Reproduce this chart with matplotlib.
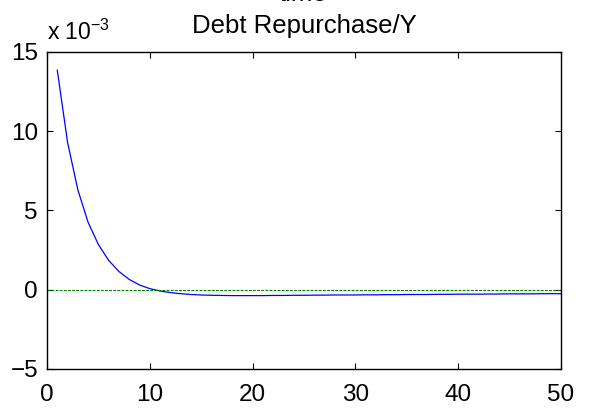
import matplotlib
matplotlib.use('Agg')
import matplotlib.pyplot as plt

# 數據 (x 10^-3)
periods = list(range(1, 51))
debt_repurchase = [13.85, 9.3, 6.3, 4.25, 2.85, 1.85, 1.15, 0.65, 0.3, 0.07,
                   -0.08, -0.18, -0.25, -0.3, -0.33, -0.35, -0.36, -0.37, -0.37, -0.37,
                   -0.37, -0.36, -0.36, -0.35, -0.35, -0.34, -0.34, -0.33, -0.33, -0.33,
                   -0.32, -0.32, -0.31, -0.31, -0.3, -0.3, -0.3, -0.29, -0.29, -0.28,
                   -0.28, -0.28, -0.27, -0.27, -0.26, -0.26, -0.26, -0.25, -0.25, -0.25]
x_ticks = [0, 10, 20, 30, 40, 50]
y_ticks = [-5, 0, 5, 10, 15]

plt.rcParams['font.family'] = ['Liberation Sans', 'DejaVu Sans']

fig = plt.figure(figsize=(5.89, 4.11), dpi=100)
ax = fig.add_axes([0.0798, 0.1022, 0.8727, 0.7713])

ax.plot(periods, debt_repurchase, color='#0000ff', linewidth=0.9)
ax.plot([0, 50], [0, 0], color='#008000', linestyle='--', dashes=(2.5, 1.2), linewidth=0.8)

ax.set_xlim(0, 50)
ax.set_ylim(-5, 15)
ax.set_xticks(x_ticks)
ax.set_yticks(y_ticks)
ax.tick_params(direction='in', top=True, right=True, length=4, width=0.8,
               labelsize=17.5)
ax.tick_params(axis='x', pad=11)
ax.tick_params(axis='y', pad=6.5)
for s in ax.spines.values():
    s.set_linewidth(1.0)

ax.set_title('Debt Repurchase/Y', fontsize=18.5, pad=14)
fig.text(0.0795, 0.903, r'x 10$^{\mathregular{-3}}$', fontsize=16.5, ha='left', va='baseline')
# 上一個子圖的 xlabel (被截斷)
fig.text(0.515, 0.9985, 'time', fontsize=18.5, ha='center', va='baseline')

fig.savefig('out.png', dpi=100)
